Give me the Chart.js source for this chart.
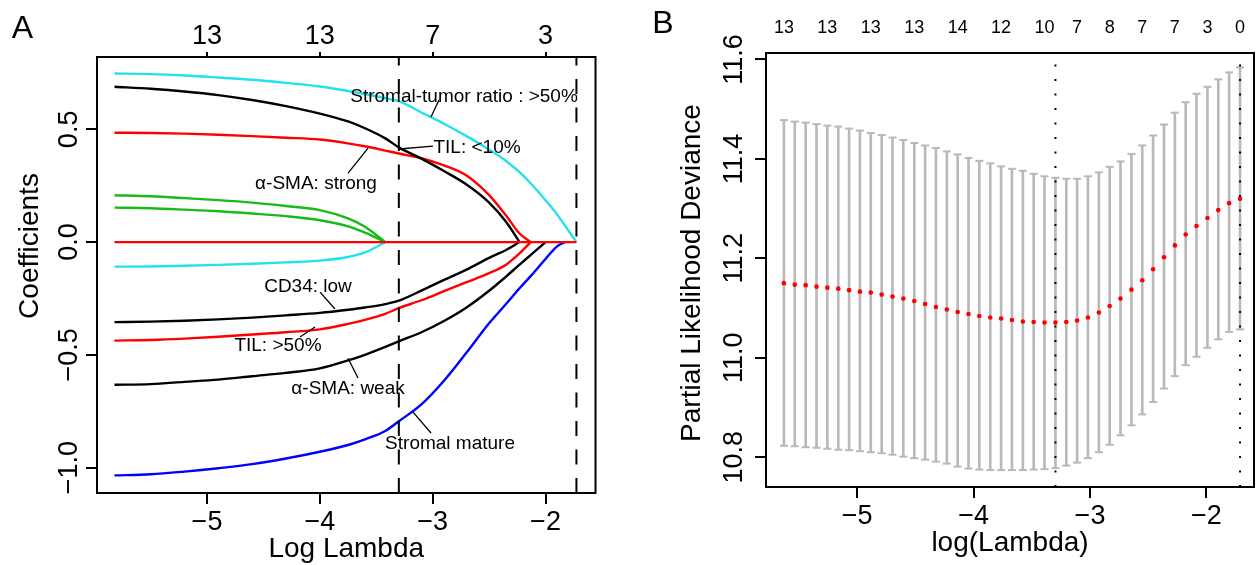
<!DOCTYPE html>
<html>
<head>
<meta charset="utf-8">
<title>LASSO Cox regression</title>
<script src="https://cdn.jsdelivr.net/npm/chart.js@4.4.1/dist/chart.umd.min.js"></script>
<style>
  html, body { margin: 0; padding: 0; background: #fff; overflow: hidden; }
  #wrap { position: relative; width: 1260px; height: 565px; }
  canvas { position: absolute; top: 0; }
  #chartA { left: 0; }
  #chartB { left: 630px; }
</style>
</head>
<body>
<div id="wrap">
  <canvas id="chartA" width="630" height="565"></canvas>
  <canvas id="chartB" width="630" height="565"></canvas>
</div>
<script>
// Panel A - coefficient paths against log(lambda); null once a path has reached zero
const lambdaA = [-5.82, -5.5, -5.2, -4.9, -4.6, -4.3, -4.0, -3.75, -3.6, -3.42, -3.3,
                 -3.1, -2.9, -2.7, -2.5, -2.35, -2.23, -2.13, -2.0, -1.9, -1.83, -1.726];
const zeroPath       = [0, 0, 0, 0, 0, 0, 0, 0, 0, 0, 0, 0, 0, 0, 0, 0, 0, 0, 0, 0, 0, 0];
const stromalTumor   = [0.748, 0.745, 0.739, 0.730, 0.720, 0.706, 0.690, 0.670, 0.657, 0.638, 0.625,
                        0.575, 0.525, 0.470, 0.410, 0.360, 0.310, 0.260, 0.186, 0.125, 0.075, 0];
const tilLow         = [0.689, 0.680, 0.668, 0.652, 0.630, 0.603, 0.570, 0.535, 0.505, 0.460, 0.420,
                        0.370, 0.315, 0.255, 0.175, 0.090, 0, null, null, null, null, null];
const smaStrong      = [0.485, 0.484, 0.481, 0.476, 0.470, 0.463, 0.455, 0.438, 0.425, 0.406, 0.393,
                        0.372, 0.340, 0.295, 0.208, 0.118, 0.038, 0, null, null, null, null];
const greenPathA     = [0.208, 0.203, 0.195, 0.186, 0.175, 0.160, 0.142, 0.105, 0.068, 0, null,
                        null, null, null, null, null, null, null, null, null, null, null];
const greenPathB     = [0.153, 0.150, 0.144, 0.137, 0.127, 0.115, 0.097, 0.070, 0.042, 0, null,
                        null, null, null, null, null, null, null, null, null, null, null];
const cyanPathLow    = [-0.109, -0.108, -0.105, -0.101, -0.096, -0.090, -0.082, -0.066, -0.046, 0, null,
                        null, null, null, null, null, null, null, null, null, null, null];
const cd34Low        = [-0.355, -0.353, -0.349, -0.343, -0.335, -0.325, -0.314, -0.300, -0.290, -0.275, -0.260,
                        -0.215, -0.168, -0.122, -0.070, -0.035, 0, null, null, null, null, null];
const tilHigh        = [-0.437, -0.434, -0.428, -0.420, -0.410, -0.400, -0.387, -0.363, -0.345, -0.318, -0.293,
                        -0.258, -0.218, -0.178, -0.138, -0.100, -0.050, 0, null, null, null, null];
const smaWeak        = [-0.633, -0.630, -0.620, -0.610, -0.595, -0.580, -0.560, -0.525, -0.500, -0.465, -0.440,
                        -0.400, -0.350, -0.290, -0.216, -0.153, -0.100, -0.057, 0, null, null, null];
const stromalMature  = [-1.035, -1.030, -1.018, -1.003, -0.985, -0.960, -0.930, -0.900, -0.875, -0.838, -0.795,
                        -0.720, -0.615, -0.490, -0.360, -0.275, -0.205, -0.150, -0.075, -0.020, 0, null];

const ticksAx = [-5, -4, -3, -2];
const topCountsA = ['13', '13', '7', '3'];
const ticksAy = [-1.0, -0.5, 0.0, 0.5];
const cutsA = [-3.30, -1.726];

// Panel B - cross-validated partial likelihood deviance
const lambdaB = [-5.630, -5.537, -5.443, -5.350, -5.257, -5.163, -5.070, -4.977, -4.884, -4.790,
                 -4.697, -4.604, -4.510, -4.417, -4.324, -4.230, -4.137, -4.044, -3.951, -3.857,
                 -3.764, -3.671, -3.577, -3.484, -3.391, -3.297, -3.204, -3.111, -3.018, -2.924,
                 -2.831, -2.738, -2.644, -2.551, -2.458, -2.364, -2.271, -2.178, -2.085, -1.991,
                 -1.898, -1.805, -1.711];
const cvMean  = [11.150, 11.147, 11.146, 11.143, 11.141, 11.139, 11.136, 11.133, 11.131, 11.127,
                 11.123, 11.119, 11.114, 11.108, 11.102, 11.097, 11.092, 11.088, 11.084, 11.081,
                 11.079, 11.076, 11.073, 11.072, 11.071, 11.071, 11.072, 11.075, 11.081, 11.091,
                 11.104, 11.119, 11.137, 11.156, 11.178, 11.202, 11.226, 11.248, 11.265, 11.281,
                 11.297, 11.311, 11.320];
const cvUpper = [11.478, 11.475, 11.473, 11.470, 11.467, 11.465, 11.461, 11.457, 11.452, 11.448,
                 11.443, 11.438, 11.432, 11.427, 11.422, 11.415, 11.409, 11.402, 11.396, 11.391,
                 11.385, 11.380, 11.376, 11.370, 11.365, 11.362, 11.360, 11.360, 11.365, 11.373,
                 11.384, 11.395, 11.410, 11.427, 11.447, 11.469, 11.493, 11.514, 11.531, 11.545,
                 11.560, 11.574, 11.584];
const cvLower = [10.823, 10.822, 10.820, 10.819, 10.817, 10.815, 10.814, 10.812, 10.810, 10.808,
                 10.805, 10.801, 10.798, 10.795, 10.791, 10.787, 10.781, 10.777, 10.775, 10.774,
                 10.774, 10.774, 10.774, 10.775, 10.776, 10.778, 10.783, 10.789, 10.798, 10.810,
                 10.825, 10.844, 10.864, 10.886, 10.911, 10.938, 10.963, 10.985, 11.002, 11.020,
                 11.037, 11.052, 11.057];

const ticksBx = [-5, -4, -3, -2];
const ticksBy = [10.8, 11.0, 11.2, 11.4, 11.6];
const topAtB = [-5.630, -5.257, -4.884, -4.510, -4.137, -3.764, -3.391, -3.111, -2.831, -2.551, -2.271, -1.991, -1.711];
const topCountsB = ['13', '13', '13', '13', '14', '12', '10', '7', '8', '7', '7', '3', '0'];
const cutsB = [-3.297, -1.711];

// Styling
const FONT = "'Liberation Sans', Arial, Helvetica, sans-serif";
const RED = '#ff0000';
const CYAN = '#22e2ee';
const GREEN = '#17bb17';
const BLUE = '#0000ff';
const BLACK = '#000000';
const GREY = '#b9b9b9';

const minus = s => String(s).replace('-', '\u2212');

// label notes on panel A (text centre, leader start, leader end) in data units
const notesA = [
  { text: 'Stromal-tumor ratio : >50%', at: [-2.722, 0.652], from: [-2.944, 0.630], to: [-3.015, 0.555] },
  { text: 'TIL: <10%', at: [-2.607, 0.426], from: [-2.997, 0.426], to: [-3.298, 0.413] },
  { text: '\u03b1-SMA: strong', at: [-4.034, 0.266], from: [-3.750, 0.306], to: [-3.573, 0.417] },
  { text: 'CD34: low', at: [-4.105, -0.191], from: [-3.998, -0.222], to: [-3.866, -0.297] },
  { text: 'TIL: >50%', at: [-4.371, -0.453], from: [-4.176, -0.421], to: [-4.043, -0.377] },
  { text: '\u03b1-SMA: weak', at: [-3.750, -0.643], from: [-3.750, -0.515], to: [-3.662, -0.603] },
  { text: 'Stromal mature', at: [-2.846, -0.887], from: [-3.174, -0.754], to: [-3.015, -0.847] }
];

/**
 * Panel decorations: box, reference lines, rotated y labels, titles
 */
function panelPlugin(cfg) {
  return {
    id: 'panel' + cfg.letter,
    afterDatasetsDraw(chart) {
      const { ctx, chartArea: a, scales } = chart;
      ctx.save();
      ctx.strokeStyle = BLACK;
      ctx.lineWidth = cfg.cutWidth;
      ctx.setLineDash(cfg.cutDash);
      cfg.cuts.forEach(v => {
        const px = scales.x.getPixelForValue(v);
        ctx.beginPath();
        ctx.moveTo(px, a.bottom);
        ctx.lineTo(px, a.top);
        ctx.stroke();
      });
      ctx.restore();
    },
    afterDraw(chart) {
      const { ctx, chartArea: a, scales } = chart;
      ctx.save();

      // box
      ctx.strokeStyle = BLACK;
      ctx.lineWidth = 2;
      ctx.strokeRect(a.left, a.top, a.right - a.left, a.bottom - a.top);

      // y tick labels, parallel to the axis
      ctx.fillStyle = BLACK;
      ctx.font = '27px ' + FONT;
      ctx.textAlign = 'center';
      ctx.textBaseline = 'alphabetic';
      scales.y.ticks.forEach(t => {
        const py = scales.y.getPixelForValue(t.value);
        ctx.save();
        ctx.translate(cfg.yLabelBase, py);
        ctx.rotate(-Math.PI / 2);
        ctx.fillText(minus(t.value.toFixed(1)), 0, 0);
        ctx.restore();
      });

      // y title
      ctx.font = '28px ' + FONT;
      ctx.save();
      ctx.translate(cfg.yTitleBase, cfg.yTitleMid);
      ctx.rotate(-Math.PI / 2);
      ctx.fillText(cfg.yTitle, 0, 0);
      ctx.restore();

      // panel letter
      ctx.font = '32px ' + FONT;
      ctx.fillText(cfg.letter, cfg.letterX, cfg.letterY);

      // notes with leader lines
      ctx.font = '19px ' + FONT;
      ctx.lineWidth = 1.3;
      (cfg.notes || []).forEach(n => {
        ctx.beginPath();
        ctx.moveTo(scales.x.getPixelForValue(n.from[0]), scales.y.getPixelForValue(n.from[1]));
        ctx.lineTo(scales.x.getPixelForValue(n.to[0]), scales.y.getPixelForValue(n.to[1]));
        ctx.stroke();
        ctx.fillText(n.text, scales.x.getPixelForValue(n.at[0]), scales.y.getPixelForValue(n.at[1]) + 6.8);
      });
      ctx.restore();
    }
  };
}

/**
 * Shared axis pieces
 */
function tickGrid(len) {
  return {
    display: true, offset: false, drawOnChartArea: false, drawTicks: len > 0,
    tickLength: len, color: BLACK, lineWidth: 2
  };
}

/**
 * Chart A
 */
new Chart(document.getElementById('chartA'), {
  type: 'line',
  data: {
    datasets: [
      [zeroPath, RED],
      [stromalTumor, CYAN],
      [tilLow, BLACK],
      [smaStrong, RED],
      [greenPathA, GREEN],
      [greenPathB, GREEN],
      [cyanPathLow, CYAN],
      [cd34Low, BLACK],
      [tilHigh, RED],
      [smaWeak, BLACK],
      [stromalMature, BLUE]
    ].map(([vals, col]) => ({
      data: lambdaA.map((x, i) => ({ x: x, y: vals[i] })),
      borderColor: col,
      borderWidth: 2.4,
      pointRadius: 0,
      cubicInterpolationMode: 'monotone',
      spanGaps: false,
      fill: false
    }))
  },
  options: {
    responsive: false,
    animation: false,
    devicePixelRatio: 1,
    layout: { padding: { left: 0, right: 34.5, top: 0, bottom: 0 } },
    plugins: { legend: { display: false }, tooltip: { enabled: false } },
    scales: {
      x: {
        type: 'linear',
        position: 'bottom',
        min: -5.975,
        max: -1.557,
        afterBuildTicks: s => { s.ticks = ticksAx.map(v => ({ value: v })); },
        afterFit: s => { s.height = 72; },
        ticks: {
          autoSkip: false, maxRotation: 0, padding: 2, color: BLACK,
          font: { family: FONT, size: 27 },
          callback: v => minus(v)
        },
        grid: tickGrid(11),
        border: { display: false },
        title: {
          display: true, text: 'Log Lambda', color: BLACK,
          font: { family: FONT, size: 28 },
          padding: { top: 0, bottom: -0.8 }
        }
      },
      xTop: {
        type: 'linear',
        axis: 'x',
        position: 'top',
        min: -5.975,
        max: -1.557,
        afterBuildTicks: s => { s.ticks = ticksAx.map(v => ({ value: v })); },
        afterFit: s => { s.height = 57; },
        ticks: {
          autoSkip: false, maxRotation: 0, padding: -1.2, color: BLACK,
          font: { family: FONT, size: 27 },
          callback: (v, i) => topCountsA[i]
        },
        grid: tickGrid(5),
        border: { display: false }
      },
      y: {
        type: 'linear',
        position: 'left',
        min: -1.113,
        max: 0.821,
        afterBuildTicks: s => { s.ticks = ticksAy.map(v => ({ value: v })); },
        afterFit: s => { s.width = 97; },
        ticks: { display: false },
        grid: tickGrid(11),
        border: { display: false }
      }
    }
  },
  plugins: [panelPlugin({
    letter: 'A', letterX: 22.5, letterY: 38,
    yTitle: 'Coefficients', yTitleBase: 38, yTitleMid: 246,
    yLabelBase: 76.7,
    cuts: cutsA, cutDash: [15, 13.5], cutWidth: 2,
    notes: notesA
  })]
});

/**
 * Chart B
 */
new Chart(document.getElementById('chartB'), {
  type: 'scatter',
  data: {
    datasets: [
      {
        label: 'Mean',
        data: lambdaB.map((x, i) => ({ x: x, y: cvMean[i] })),
        pointRadius: 2.3,
        pointBackgroundColor: RED,
        pointBorderWidth: 0,
        order: 0
      },
      {
        label: 'Upper',
        data: lambdaB.map((x, i) => ({ x: x, y: cvUpper[i] })),
        pointStyle: 'line',
        pointRadius: 4,
        pointBorderColor: GREY,
        pointBorderWidth: 2,
        order: 1
      },
      {
        label: 'Lower',
        data: lambdaB.map((x, i) => ({ x: x, y: cvLower[i] })),
        pointStyle: 'line',
        pointRadius: 4,
        pointBorderColor: GREY,
        pointBorderWidth: 2,
        order: 1
      },
      {
        type: 'bar',
        label: 'Range',
        data: lambdaB.map((x, i) => ({ x: x, y: [cvLower[i], cvUpper[i]] })),
        backgroundColor: GREY,
        borderWidth: 0,
        barThickness: 2,
        order: 2
      }
    ]
  },
  options: {
    responsive: false,
    animation: false,
    devicePixelRatio: 1,
    layout: { padding: { left: 0, right: 2, top: 0, bottom: 0 } },
    plugins: { legend: { display: false }, tooltip: { enabled: false } },
    scales: {
      x: {
        type: 'linear',
        position: 'bottom',
        offset: false,
        min: -5.784,
        max: -1.591,
        afterBuildTicks: s => { s.ticks = ticksBx.map(v => ({ value: v })); },
        afterFit: s => { s.height = 78; },
        ticks: {
          autoSkip: false, maxRotation: 0, padding: 2, color: BLACK,
          font: { family: FONT, size: 27 },
          callback: v => minus(v)
        },
        grid: tickGrid(11),
        border: { display: false },
        title: {
          display: true, text: 'log(Lambda)', color: BLACK,
          font: { family: FONT, size: 28 },
          padding: { top: 0, bottom: 4.9 }
        }
      },
      xTop: {
        type: 'linear',
        axis: 'x',
        position: 'top',
        offset: false,
        min: -5.784,
        max: -1.591,
        afterBuildTicks: s => { s.ticks = topAtB.map(v => ({ value: v })); },
        afterFit: s => { s.height = 53; },
        ticks: {
          autoSkip: false, maxRotation: 0, padding: 6.2, color: BLACK,
          font: { family: FONT, size: 18 },
          callback: (v, i) => topCountsB[i]
        },
        grid: { display: false, offset: false },
        border: { display: false }
      },
      y: {
        type: 'linear',
        position: 'left',
        min: 10.740,
        max: 11.613,
        afterBuildTicks: s => { s.ticks = ticksBy.map(v => ({ value: v })); },
        afterFit: s => { s.width = 136; },
        ticks: { display: false },
        grid: tickGrid(11),
        border: { display: false }
      }
    }
  },
  plugins: [panelPlugin({
    letter: 'B', letterX: 33, letterY: 33,
    yTitle: 'Partial Likelihood Deviance', yTitleBase: 70, yTitleMid: 273,
    yLabelBase: 111.7,
    cuts: cutsB, cutDash: [2, 12.5], cutWidth: 2
  })]
});
</script>
</body>
</html>
